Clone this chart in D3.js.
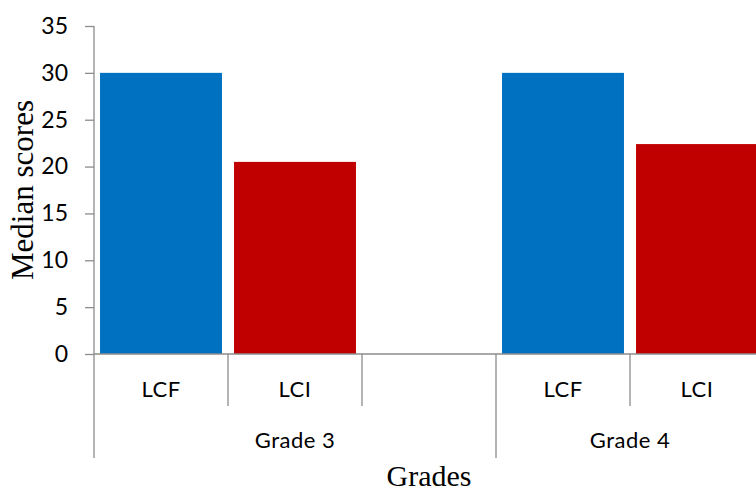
<!DOCTYPE html>
<html>
<head>
<meta charset="utf-8">
<script src="https://cdn.jsdelivr.net/npm/d3@7"></script>
<style>
  body { margin: 0; background: #fff; overflow: hidden; }
  svg { display: block; }
</style>
</head>
<body>
<svg id="chart" width="756" height="493"></svg>
<script>
// data ------------------------------------------------ //
var slotGrades = ['Grade 3', 'Grade 3', 'Grade 3', 'Grade 4', 'Grade 4'];
var slotLabels = ['LCF', 'LCI', '', 'LCF', 'LCI'];
var slotValues = [30, 20.5, null, 30, 22.4];
var grades = ['Grade 3', 'Grade 4'];
var yTicks = [0, 5, 10, 15, 20, 25, 30, 35];
var seriesColors = { LCF: '#0070C0', LCI: '#C00000' };

var axisColor = '#8c8c8c',
  tickFont = 'Lato, "Open Sans", sans-serif',
  titleFont = '"Liberation Serif", "Times New Roman", serif';

var margin = { left: 94, top: 26, right: 764, bottom: 354 };

var svg = d3.select('#chart');

var slots = d3.range(slotLabels.length);

var x = d3.scaleBand()
  .domain(slots)
  .range([margin.left, margin.right])
  .paddingInner(0.09)
  .paddingOuter(0.045);

var y = d3.scaleLinear()
  .domain([0, 35])
  .range([margin.bottom, margin.top]);

// Bars -------------------------- //
svg.append('g')
  .selectAll('rect')
  .data(slots.filter(function (i) { return slotValues[i] != null; }))
  .enter()
  .append('rect')
  .attr('x', function (i) { return x(i); })
  .attr('width', x.bandwidth())
  .attr('y', function (i) { return y(slotValues[i]); })
  .attr('height', function (i) { return y(0) - y(slotValues[i]); })
  .style('fill', function (i) { return seriesColors[slotLabels[i]]; });

// Y axis ------------------------ //
var yAxis = svg.append('g')
  .attr('transform', `translate(${margin.left},0)`)
  .call(d3.axisLeft(y).tickValues(yTicks).tickSize(9).tickPadding(17).tickFormat(d3.format('d')));
yAxis.select('.domain').remove();
yAxis.selectAll('.tick line').attr('stroke', axisColor).attr('stroke-width', 1.3);
yAxis.selectAll('.tick text')
  .style('font-family', tickFont)
  .style('font-size', '23px')
  .attr('fill', '#000');
yAxis.append('line')
  .attr('y1', y(35)).attr('y2', y(0))
  .attr('stroke', axisColor).attr('stroke-width', 1.3);

// X axis (two levels) ----------- //
var step = x.step(),
  start = margin.left,
  xa = svg.append('g');

xa.append('line')
  .attr('x1', margin.left).attr('x2', margin.right)
  .attr('y1', y(0)).attr('y2', y(0))
  .attr('stroke', axisColor).attr('stroke-width', 1.3);

// boundaries between slots
d3.range(slotLabels.length + 1).forEach(function (k) {
  var bx = start + k * step,
    isGroupEdge = k === 0 || k === slotLabels.length || slotGrades[k] !== slotGrades[k - 1];
  xa.append('line')
    .attr('x1', bx).attr('x2', bx)
    .attr('y1', y(0)).attr('y2', isGroupEdge ? 458 : 406)
    .attr('stroke', axisColor).attr('stroke-width', 1.3);
});

xa.selectAll('text.cat')
  .data(slots)
  .enter()
  .append('text')
  .attr('class', 'cat')
  .attr('x', function (i) { return x(i) + x.bandwidth() / 2; })
  .attr('y', 397)
  .attr('text-anchor', 'middle')
  .style('font-family', tickFont)
  .style('font-size', '22px')
  .style('letter-spacing', '0.5px')
  .text(function (i) { return slotLabels[i]; });

xa.selectAll('text.grade')
  .data(grades)
  .enter()
  .append('text')
  .attr('class', 'grade')
  .attr('x', function (g) {
    var idx = slots.filter(function (i) { return slotGrades[i] === g; });
    return start + (idx[0] + (idx[idx.length - 1] + 1)) / 2 * step;
  })
  .attr('y', 448)
  .attr('text-anchor', 'middle')
  .style('font-family', tickFont)
  .style('font-size', '22px')
  .style('letter-spacing', '0.5px')
  .text(function (g) { return g; });

// Titles ------------------------ //
svg.append('text')
  .attr('x', (margin.left + margin.right) / 2)
  .attr('y', 486)
  .attr('text-anchor', 'middle')
  .style('font-family', titleFont)
  .style('font-size', '30px')
  .text('Grades');

svg.append('text')
  .attr('transform', `translate(33,${(margin.top + margin.bottom) / 2}) rotate(-90)`)
  .attr('text-anchor', 'middle')
  .style('font-family', titleFont)
  .style('font-size', '31px')
  .text('Median scores');
</script>
</body>
</html>
